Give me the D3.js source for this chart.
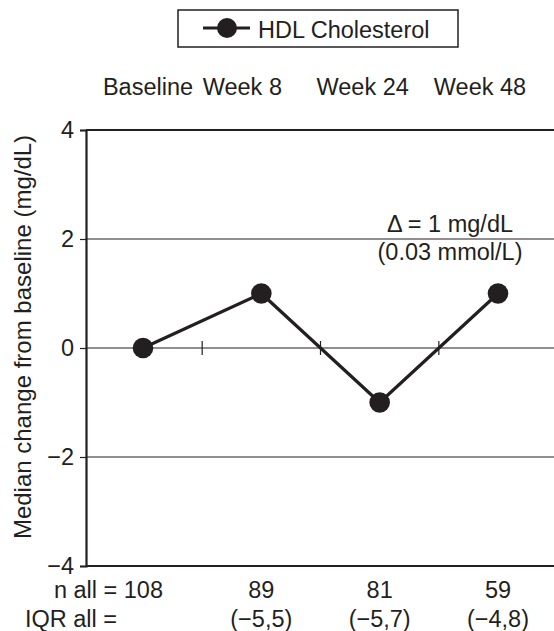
<!DOCTYPE html>
<html><head><meta charset="utf-8">
<script src="https://cdn.jsdelivr.net/npm/d3@7"></script>
<style>body{margin:0;background:#fff}svg{display:block}text{font-family:"Liberation Sans",Arial,sans-serif;fill:#231f20}</style>
</head><body>
<script>
const categories = ["Baseline", "Week 8", "Week 24", "Week 48"];
const values = [0, 1, -1, 1];
const nAll = ["n all = 108", "89", "81", "59"];
const iqrAll = ["IQR all =", "(\u22125,5)", "(\u22125,7)", "(\u22124,8)"];
const yTicks = [-4, -2, 0, 2, 4];
const seriesName = "HDL Cholesterol";
const annotation = ["\u0394 = 1 mg/dL", "(0.03 mmol/L)"];
const yTitle = "Median change from baseline (mg/dL)";

(function () {
const W = 554, H = 631, ink = "#231f20";
const svg = d3.select("body").append("svg").attr("width", W).attr("height", H);
const pLeft = 86, pRight = 554, pTop = 130, pBottom = 566;
const x = d3.scalePoint().domain(categories).range([143, 498]);
const y = d3.scaleLinear().domain([-4, 4]).range([pBottom, pTop]);
const step = x.step();
const fs = 23.5;

// grid lines
svg.append("g").selectAll("line").data(yTicks).join("line")
  .attr("x1", pLeft).attr("x2", pRight)
  .attr("y1", d => y(d)).attr("y2", d => y(d))
  .attr("stroke", ink).attr("stroke-width", d => Math.abs(d) === 4 ? 2.2 : 1.2);

// y axis
const yAxis = svg.append("g").attr("transform", `translate(${pLeft},0)`)
  .call(d3.axisLeft(y).tickValues(yTicks).tickSize(6).tickPadding(6)
    .tickFormat(d => d < 0 ? "\u2212" + Math.abs(d) : d));
yAxis.select(".domain").attr("stroke", ink).attr("stroke-width", 2.2);
yAxis.selectAll(".tick line").attr("stroke", ink).attr("stroke-width", 1.2);
yAxis.selectAll(".tick text").attr("font-size", fs).attr("font-family", "Liberation Sans, Arial, sans-serif").attr("fill", ink);

// x midpoint ticks on zero line
const mids = categories.slice(0, -1).map(c => x(c) + step / 2);
svg.append("g").selectAll("line").data(mids).join("line")
  .attr("x1", d => d).attr("x2", d => d)
  .attr("y1", y(0) - 7).attr("y2", y(0) + 7)
  .attr("stroke", ink).attr("stroke-width", 1.2);

// line + points
const data = categories.map((c, i) => ({c, v: values[i]}));
svg.append("path").datum(data)
  .attr("d", d3.line().x(d => x(d.c)).y(d => y(d.v)))
  .attr("fill", "none").attr("stroke", ink).attr("stroke-width", 3.2);
svg.append("g").selectAll("circle").data(data).join("circle")
  .attr("cx", d => x(d.c)).attr("cy", d => y(d.v)).attr("r", 10.3).attr("fill", ink);

// top category labels
const topOffsets = [5, -19, -17, -18];
svg.append("g").selectAll("text").data(categories).join("text")
  .attr("x", (d, i) => x(d) + topOffsets[i])
  .attr("y", 95).attr("font-size", fs)
  .attr("text-anchor", "middle")
  .text(d => d);

// bottom n and IQR
svg.append("g").selectAll("text").data(nAll).join("text")
  .attr("x", (d, i) => i === 0 ? 163 : x(categories[i]))
  .attr("y", 598).attr("font-size", fs)
  .attr("text-anchor", (d, i) => i === 0 ? "end" : "middle").text(d => d);
svg.append("g").selectAll("text").data(iqrAll).join("text")
  .attr("x", (d, i) => i === 0 ? 117 : x(categories[i]))
  .attr("y", 627).attr("font-size", fs)
  .attr("text-anchor", (d, i) => i === 0 ? "end" : "middle").text(d => d);

// annotation
svg.append("g").selectAll("text").data(annotation).join("text")
  .attr("x", 450).attr("y", (d, i) => 232 + i * 28).attr("font-size", fs)
  .attr("text-anchor", "middle").text(d => d);

// y title
svg.append("text").attr("transform", `translate(31,337) rotate(-90)`)
  .attr("text-anchor", "middle").attr("font-size", 24).text(yTitle);

// legend
const lg = svg.append("g");
lg.append("rect").attr("x", 178).attr("y", 10).attr("width", 280).attr("height", 37)
  .attr("fill", "#fff").attr("stroke", ink).attr("stroke-width", 1.5);
lg.append("line").attr("x1", 203).attr("x2", 250).attr("y1", 28).attr("y2", 28)
  .attr("stroke", ink).attr("stroke-width", 3.2);
lg.append("circle").attr("cx", 227).attr("cy", 28).attr("r", 10).attr("fill", ink);
lg.append("text").attr("x", 258).attr("y", 38).attr("font-size", fs).text(seriesName);
})();
</script>
</body></html>
